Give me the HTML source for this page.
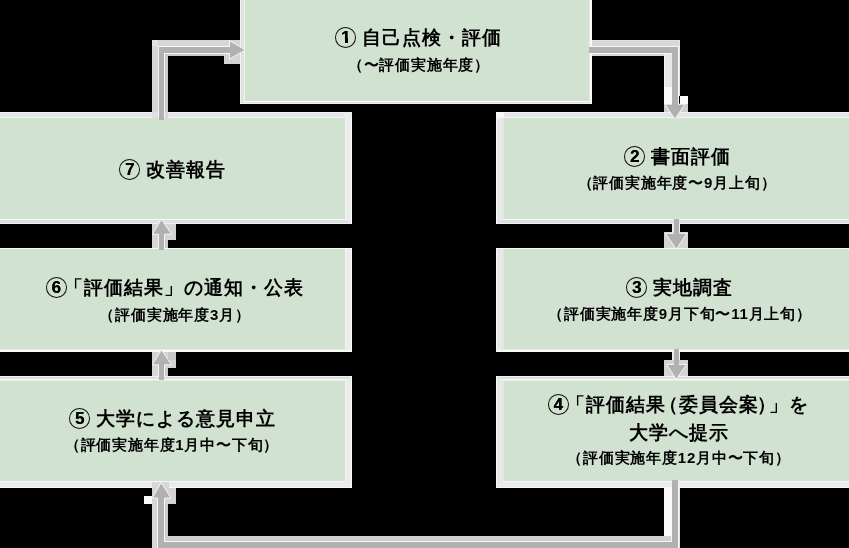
<!DOCTYPE html>
<html lang="ja">
<head>
<meta charset="utf-8">
<title>評価の流れ</title>
<style>
html,body{margin:0;padding:0}
body{width:849px;height:548px;background:#000;position:relative;overflow:hidden;font-family:"Liberation Sans",sans-serif;color:#000;font-weight:bold}
svg{position:absolute;left:0;top:0}
.ln{position:absolute;width:400px;text-align:center;white-space:nowrap;will-change:transform}
.t{font-size:19px;line-height:24px;letter-spacing:1px}
.s{font-size:15px;line-height:20px;letter-spacing:0.8px}
.c1{position:relative}
.c1::before{content:"";position:absolute;left:5px;top:12.3px;width:9.6px;height:2.4px;background:#d2e2d0}
.c1::after{content:"";position:absolute;left:8.4px;top:10px;width:3px;height:5.2px;background:#000}
.c{display:inline-block;box-sizing:border-box;width:21px;height:20.5px;border:1.7px solid #111;border-radius:50%;font-size:17px;line-height:19.5px;letter-spacing:0;-webkit-text-stroke:0;text-align:center;vertical-align:top;margin:1px -1px 0 1px;text-indent:-0.5px;text-shadow:0.3px 0 0 #000}
</style>
</head>
<body>
<svg width="849" height="548" viewBox="0 0 849 548">
<g shape-rendering="crispEdges">
<rect x="240" y="103" width="352" height="1" fill="#f0f0f0"/>
<rect x="240" y="0" width="1" height="104" fill="#f2f2f2"/>
<rect x="591" y="0" width="1" height="104" fill="#f8f8fa"/>
<rect x="241" y="102" width="350" height="1" fill="#e0e0e0"/>
<rect x="241" y="0" width="1" height="103" fill="#e0e0e0"/>
<rect x="590" y="0" width="1" height="103" fill="#fcfcfc"/>
<rect x="242" y="101" width="348" height="1" fill="#f8fcf8"/>
<rect x="242" y="0" width="1" height="102" fill="#e0e0e0"/>
<rect x="589" y="0" width="1" height="102" fill="#e2eae2"/>
<rect x="243" y="0" width="1" height="101" fill="#dde4dd"/>
<rect x="244" y="0" width="1" height="101" fill="#f0f8f0"/>
<rect x="245" y="0" width="1" height="101" fill="#cfdfcd"/>
<rect x="246" y="0" width="343" height="101" fill="#d2e2d0"/>
<rect x="496" y="112" width="353" height="1" fill="#f2f2f4"/>
<rect x="496" y="223" width="353" height="1" fill="#f0f0f0"/>
<rect x="496" y="112" width="1" height="112" fill="#f8f8f8"/>
<rect x="497" y="113" width="352" height="1" fill="#e5e4e8"/>
<rect x="497" y="222" width="352" height="1" fill="#e0e0e0"/>
<rect x="497" y="113" width="1" height="110" fill="#e8e8e8"/>
<rect x="498" y="114" width="351" height="1" fill="#e5e4e8"/>
<rect x="498" y="221" width="351" height="1" fill="#e0e0e0"/>
<rect x="498" y="114" width="1" height="108" fill="#e8e8e8"/>
<rect x="499" y="115" width="350" height="1" fill="#e5e4e8"/>
<rect x="499" y="220" width="350" height="1" fill="#e0e0e0"/>
<rect x="499" y="115" width="1" height="106" fill="#e8e8e8"/>
<rect x="500" y="116" width="349" height="1" fill="#e5e4e8"/>
<rect x="500" y="219" width="349" height="1" fill="#f0f8f0"/>
<rect x="500" y="116" width="1" height="104" fill="#e8e8e8"/>
<rect x="501" y="117" width="348" height="1" fill="#f2faf2"/>
<rect x="501" y="117" width="1" height="102" fill="#e8e8e8"/>
<rect x="502" y="118" width="1" height="101" fill="#e8e8e8"/>
<rect x="503" y="118" width="1" height="101" fill="#e0e5df"/>
<rect x="504" y="118" width="345" height="101" fill="#d2e2d0"/>
<rect x="496" y="112" width="8" height="6" fill="#f8f8f8"/>
<rect x="496" y="248" width="353" height="1" fill="#f8fcf8"/>
<rect x="496" y="351" width="353" height="1" fill="#fafafa"/>
<rect x="496" y="248" width="1" height="104" fill="#f8f8f8"/>
<rect x="497" y="350" width="352" height="1" fill="#fafafa"/>
<rect x="497" y="249" width="1" height="102" fill="#e8e8e8"/>
<rect x="498" y="349" width="351" height="1" fill="#e4ece4"/>
<rect x="498" y="249" width="1" height="101" fill="#e8e8e8"/>
<rect x="499" y="249" width="1" height="100" fill="#e8e8e8"/>
<rect x="500" y="249" width="1" height="100" fill="#e8e8e8"/>
<rect x="501" y="249" width="1" height="100" fill="#e8e8e8"/>
<rect x="502" y="249" width="1" height="100" fill="#e8e8e8"/>
<rect x="503" y="249" width="1" height="100" fill="#e0e5df"/>
<rect x="504" y="249" width="345" height="100" fill="#d2e2d0"/>
<rect x="496" y="376" width="353" height="1" fill="#f0f0f0"/>
<rect x="496" y="487" width="353" height="1" fill="#fafafa"/>
<rect x="496" y="376" width="1" height="112" fill="#f8f8f8"/>
<rect x="497" y="377" width="352" height="1" fill="#dedede"/>
<rect x="497" y="486" width="352" height="1" fill="#ebeaee"/>
<rect x="497" y="377" width="1" height="110" fill="#e8e8e8"/>
<rect x="498" y="378" width="351" height="1" fill="#dedede"/>
<rect x="498" y="485" width="351" height="1" fill="#ebeaee"/>
<rect x="498" y="378" width="1" height="108" fill="#e8e8e8"/>
<rect x="499" y="379" width="350" height="1" fill="#f8fcf8"/>
<rect x="499" y="484" width="350" height="1" fill="#ebeaee"/>
<rect x="499" y="379" width="1" height="106" fill="#e8e8e8"/>
<rect x="500" y="380" width="349" height="1" fill="#e4ece4"/>
<rect x="500" y="483" width="349" height="1" fill="#ebeaee"/>
<rect x="500" y="380" width="1" height="104" fill="#e8e8e8"/>
<rect x="501" y="482" width="348" height="1" fill="#ebeaee"/>
<rect x="501" y="381" width="1" height="102" fill="#e8e8e8"/>
<rect x="502" y="481" width="347" height="1" fill="#f0fcf0"/>
<rect x="502" y="381" width="1" height="101" fill="#e8e8e8"/>
<rect x="503" y="381" width="1" height="100" fill="#e0e5df"/>
<rect x="504" y="381" width="345" height="100" fill="#d2e2d0"/>
<rect x="0" y="112" width="352" height="1" fill="#f2f2f4"/>
<rect x="0" y="223" width="352" height="1" fill="#f0f0f0"/>
<rect x="351" y="112" width="1" height="112" fill="#fafafa"/>
<rect x="0" y="113" width="351" height="1" fill="#e5e4e8"/>
<rect x="0" y="222" width="351" height="1" fill="#e0e0e0"/>
<rect x="350" y="113" width="1" height="110" fill="#eeeaee"/>
<rect x="0" y="114" width="350" height="1" fill="#e5e4e8"/>
<rect x="0" y="221" width="350" height="1" fill="#e0e0e0"/>
<rect x="349" y="114" width="1" height="108" fill="#ecebee"/>
<rect x="0" y="115" width="349" height="1" fill="#e5e4e8"/>
<rect x="0" y="220" width="349" height="1" fill="#e0e0e0"/>
<rect x="348" y="115" width="1" height="106" fill="#ebebeb"/>
<rect x="0" y="116" width="348" height="1" fill="#e5e4e8"/>
<rect x="0" y="219" width="348" height="1" fill="#f0f8f0"/>
<rect x="347" y="116" width="1" height="104" fill="#ebebeb"/>
<rect x="0" y="117" width="347" height="1" fill="#f2faf2"/>
<rect x="346" y="117" width="1" height="102" fill="#ebebeb"/>
<rect x="345" y="118" width="1" height="101" fill="#f0fcf0"/>
<rect x="344" y="118" width="1" height="101" fill="#cfe0d0"/>
<rect x="0" y="118" width="344" height="101" fill="#d2e2d0"/>
<rect x="344" y="112" width="8" height="6" fill="#eeedf0"/>
<rect x="0" y="248" width="352" height="1" fill="#f8fcf8"/>
<rect x="0" y="351" width="352" height="1" fill="#fafafa"/>
<rect x="351" y="248" width="1" height="104" fill="#fafafa"/>
<rect x="0" y="350" width="351" height="1" fill="#fafafa"/>
<rect x="350" y="249" width="1" height="102" fill="#eeeaee"/>
<rect x="0" y="349" width="350" height="1" fill="#e4ece4"/>
<rect x="349" y="249" width="1" height="101" fill="#ecebee"/>
<rect x="348" y="249" width="1" height="100" fill="#ebebeb"/>
<rect x="347" y="249" width="1" height="100" fill="#ebebeb"/>
<rect x="346" y="249" width="1" height="100" fill="#ebebeb"/>
<rect x="345" y="249" width="1" height="100" fill="#f0fcf0"/>
<rect x="344" y="249" width="1" height="100" fill="#cfe0d0"/>
<rect x="0" y="249" width="344" height="100" fill="#d2e2d0"/>
<rect x="0" y="376" width="352" height="1" fill="#f0f0f0"/>
<rect x="0" y="487" width="352" height="1" fill="#fafafa"/>
<rect x="351" y="376" width="1" height="112" fill="#fafafa"/>
<rect x="0" y="377" width="351" height="1" fill="#dedede"/>
<rect x="0" y="486" width="351" height="1" fill="#ebeaee"/>
<rect x="350" y="377" width="1" height="110" fill="#eeeaee"/>
<rect x="0" y="378" width="350" height="1" fill="#dedede"/>
<rect x="0" y="485" width="350" height="1" fill="#ebeaee"/>
<rect x="349" y="378" width="1" height="108" fill="#ecebee"/>
<rect x="0" y="379" width="349" height="1" fill="#f8fcf8"/>
<rect x="0" y="484" width="349" height="1" fill="#ebeaee"/>
<rect x="348" y="379" width="1" height="106" fill="#ebebeb"/>
<rect x="0" y="380" width="348" height="1" fill="#e4ece4"/>
<rect x="0" y="483" width="348" height="1" fill="#ebeaee"/>
<rect x="347" y="380" width="1" height="104" fill="#ebebeb"/>
<rect x="0" y="482" width="347" height="1" fill="#ebeaee"/>
<rect x="346" y="381" width="1" height="102" fill="#ebebeb"/>
<rect x="0" y="481" width="346" height="1" fill="#f0fcf0"/>
<rect x="345" y="381" width="1" height="101" fill="#f0fcf0"/>
<rect x="344" y="381" width="1" height="100" fill="#cfe0d0"/>
<rect x="0" y="381" width="344" height="100" fill="#d2e2d0"/>
<rect x="224" y="40" width="16" height="24" fill="#d4d4d4"/>
<rect x="152" y="40" width="6" height="72" fill="#d6d6d6"/>
<rect x="152" y="112" width="6" height="6" fill="#dfdee2"/>
<rect x="152" y="40" width="77" height="6" fill="#d6d6d6"/>
<rect x="152" y="40" width="6" height="6" fill="#e2e2e2"/>
<rect x="158" y="46" width="1" height="72" fill="#f6f6f6"/>
<rect x="158" y="46" width="71" height="1" fill="#f6f6f6"/>
<rect x="165" y="54" width="3" height="58" fill="#cbcbcb"/>
<rect x="165" y="112" width="3" height="6" fill="#d9d8dc"/>
<rect x="165" y="54" width="59" height="2" fill="#cbcbcb"/>
<rect x="164" y="53" width="1" height="65" fill="#f6f6f6"/>
<rect x="164" y="53" width="65" height="1" fill="#f6f6f6"/>
<rect x="159" y="47" width="5" height="73" fill="#b1b1b1"/>
<rect x="159" y="47" width="71" height="6" fill="#b1b1b1"/>
<rect x="592" y="40" width="88" height="6" fill="#d8d8d8"/>
<rect x="592" y="40" width="88" height="1" fill="#e0e0e0"/>
<rect x="679" y="40" width="1" height="56" fill="#e6e6e6"/>
<rect x="592" y="54" width="72" height="2" fill="#d6d6d6"/>
<rect x="664" y="54" width="8" height="33" fill="#e8e8e8"/>
<rect x="664" y="54" width="1" height="33" fill="#f4f4f4"/>
<rect x="664" y="87" width="8" height="17" fill="#fafafa"/>
<rect x="680" y="96" width="8" height="8" fill="#fcfcfc"/>
<rect x="664" y="104" width="24" height="8" fill="#d0d0d0"/>
<rect x="590" y="46" width="89" height="1" fill="#f6f6f6"/>
<rect x="590" y="53" width="82" height="1" fill="#f6f6f6"/>
<rect x="678" y="46" width="1" height="59" fill="#f6f6f6"/>
<rect x="589" y="47" width="89" height="6" fill="#b1b1b1"/>
<rect x="672" y="47" width="6" height="59" fill="#b1b1b1"/>
<rect x="664" y="232" width="24" height="16" fill="#d4d4d4"/>
<rect x="672" y="224" width="2" height="8" fill="#ececec"/>
<rect x="679" y="224" width="1" height="8" fill="#f0f0f0"/>
<rect x="674" y="219" width="5" height="16" fill="#b1b1b1"/>
<rect x="664" y="360" width="24" height="16" fill="#d4d4d4"/>
<rect x="672" y="352" width="2" height="8" fill="#ececec"/>
<rect x="679" y="352" width="1" height="8" fill="#f0f0f0"/>
<rect x="674" y="349" width="5" height="17" fill="#b1b1b1"/>
<rect x="152" y="224" width="24" height="16" fill="#d4d4d4"/>
<rect x="152" y="240" width="6" height="8" fill="#d6d6d6"/>
<rect x="165" y="240" width="3" height="8" fill="#cbcbcb"/>
<rect x="158" y="235" width="1" height="13" fill="#f6f6f6"/>
<rect x="164" y="235" width="1" height="13" fill="#f6f6f6"/>
<rect x="159" y="233" width="5" height="17" fill="#b1b1b1"/>
<rect x="152" y="352" width="24" height="16" fill="#d4d4d4"/>
<rect x="168" y="352" width="8" height="8" fill="#c8c8c8"/>
<rect x="152" y="368" width="6" height="8" fill="#d6d6d6"/>
<rect x="165" y="368" width="3" height="8" fill="#cbcbcb"/>
<rect x="158" y="366" width="1" height="10" fill="#f6f6f6"/>
<rect x="164" y="366" width="1" height="10" fill="#f6f6f6"/>
<rect x="159" y="364" width="5" height="16" fill="#b1b1b1"/>
<rect x="679" y="488" width="1" height="60" fill="#e2e2e2"/>
<rect x="664" y="488" width="8" height="48" fill="#fafafa"/>
<rect x="165" y="536" width="506" height="5" fill="#d0d0d0"/>
<rect x="671" y="536" width="1" height="6" fill="#f6f6f6"/>
<rect x="164" y="541" width="514" height="1" fill="#f6f6f6"/>
<rect x="678" y="480" width="1" height="68" fill="#f6f6f6"/>
<rect x="672" y="480" width="6" height="68" fill="#b1b1b1"/>
<rect x="158" y="542" width="520" height="6" fill="#b1b1b1"/>
<rect x="152" y="482" width="17" height="6" fill="#d9d6da"/>
<rect x="152" y="488" width="24" height="16" fill="#d4d4d4"/>
<rect x="152" y="499" width="5" height="49" fill="#d6d6d6"/>
<rect x="157" y="499" width="1" height="49" fill="#f6f6f6"/>
<rect x="165" y="504" width="3" height="32" fill="#cbcbcb"/>
<rect x="164" y="499" width="1" height="43" fill="#f6f6f6"/>
<rect x="144" y="496" width="8" height="8" fill="#fafafa"/>
<rect x="158" y="497" width="6" height="51" fill="#b1b1b1"/>
</g>
<g>
<polygon points="229.5,40.6 229.5,59.1 245.4,49.9" fill="#b1b1b1" stroke="#f6f6f6" stroke-width="1"/>
<polygon points="664.9,104.2 685,104.2 674.9,119.2" fill="#b1b1b1" stroke="#f6f6f6" stroke-width="1"/>
<polygon points="665.5,233.3 687,233.3 676.3,249.4" fill="#b1b1b1" stroke="#f6f6f6" stroke-width="1"/>
<polygon points="666.5,364.4 686.5,364.4 676.3,379.3" fill="#b1b1b1" stroke="#f6f6f6" stroke-width="1"/>
<polygon points="152.4,234.3 171.6,234.3 161.4,219.2" fill="#b1b1b1" stroke="#f6f6f6" stroke-width="1"/>
<polygon points="152.2,364.8 171.6,364.8 161.5,350" fill="#b1b1b1" stroke="#f6f6f6" stroke-width="1"/>
<polygon points="152.3,498.1 171,498.1 161.2,482.4" fill="#b1b1b1" stroke="#f6f6f6" stroke-width="1"/>
</g>
<g shape-rendering="crispEdges">
<rect x="228" y="47" width="4" height="6" fill="#b1b1b1"/>
<rect x="672" y="102" width="6" height="5" fill="#b1b1b1"/>
<rect x="674" y="231" width="5" height="5" fill="#b1b1b1"/>
<rect x="674" y="362" width="5" height="5" fill="#b1b1b1"/>
<rect x="159" y="233" width="5" height="4" fill="#b1b1b1"/>
<rect x="159" y="363" width="5" height="4" fill="#b1b1b1"/>
<rect x="158" y="496" width="6" height="4" fill="#b1b1b1"/>
</g>
</svg>
<div class="ln t" style="top:26px;left:217.5px"><span class="c c1">1</span> 自己点検・評価</div>
<div class="ln s" style="top:55px;left:218.9px">（〜評価実施年度）</div>
<div class="ln t" style="top:145px;left:476.5px"><span class="c">2</span> 書面評価</div>
<div class="ln s" style="top:173px;left:477.3px">（評価実施年度〜9月上旬）</div>
<div class="ln t" style="top:276px;left:478.7px"><span class="c">3</span> 実地調査</div>
<div class="ln s" style="top:304px;left:480px">（評価実施年度9月下旬〜11月上旬）</div>
<div class="ln t" style="top:393px;left:478.2px"><span class="c" style="margin-right:-3px">4</span>「評価結果<span style="margin-left:-7px">（</span>委員会案<span style="margin-left:-2px">）</span><span style="margin-left:-8px">」</span>を</div>
<div class="ln t" style="top:421px;left:478.5px">大学へ提示</div>
<div class="ln s" style="top:448px;left:478.5px">（評価実施年度12月中〜下旬）</div>
<div class="ln t" style="top:158px;left:-28.4px"><span class="c">7</span> 改善報告</div>
<div class="ln t" style="top:276px;left:-25.5px"><span class="c" style="margin-left:0;margin-right:-3px">6</span>「評価結果」の通知・公表</div>
<div class="ln s" style="top:305px;left:-25.5px">（評価実施年度3月）</div>
<div class="ln t" style="top:407px;left:-28px"><span class="c">5</span> 大学による意見申立</div>
<div class="ln s" style="top:435px;left:-27.6px">（評価実施年度1月中〜下旬）</div>
</body>
</html>
